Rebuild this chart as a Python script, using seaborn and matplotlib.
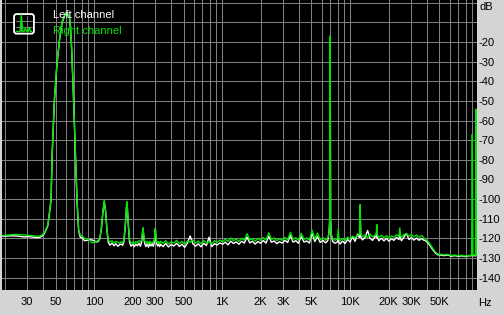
import numpy as np
import pandas as pd
import matplotlib
matplotlib.use("Agg")
import matplotlib.pyplot as plt
import seaborn as sns
from matplotlib.patches import FancyBboxPatch
from matplotlib.ticker import NullLocator

# ---------------- data ----------------
freq_hz = [
    19, 21, 23, 25, 27, 29, 31, 33, 35, 37, 39, 41,
    43.5, 46.0, 47.1, 48.9, 51.0, 53.5, 56.1, 59.2, 61.0, 62.1, 64.4, 66.3, 68.4, 70.9, 73.5, 75.7, 78.0,
    81, 84, 88, 92, 96, 100, 104, 108, 111, 114, 117, 120, 123, 126, 129, 133, 138, 143, 148, 153,
    158, 163, 167, 171, 175, 178, 180, 182, 185, 189, 194, 200, 206, 212, 218, 224, 230, 235, 238, 241,
    244, 248, 254, 260, 266, 272, 278, 284, 290, 295, 298, 301, 304, 308, 313, 319, 325,
    331, 346, 363, 381, 400, 420, 441, 463, 486, 510, 536, 563, 591, 620, 651, 684, 718, 754, 792, 831,
    873, 916, 962, 1010, 1060, 1113, 1169, 1228, 1289, 1353, 1421, 1492, 1567, 1645, 1727, 1814, 1904,
    2000, 2100, 2205, 2315, 2431, 2552, 2680, 2814, 2955, 3102, 3258, 3420, 3591, 3771, 3959, 4157, 4365,
    4584, 4813, 5053, 5306, 5572, 5850, 6143, 6450, 6700, 6850, 6950, 7000, 7050, 7150, 7300,
    7640, 7990, 8100, 8200, 8360, 8750, 9150, 9570, 10010, 10470, 10950, 11460, 11850, 12000, 12150,
    12540, 13120, 13720, 14350, 15010, 15700, 16050, 16200, 16350, 16820, 17600, 18410, 19260, 20150,
    21080, 22050, 23070, 24130, 24500, 24850, 25250, 26410, 27630, 28900, 30230, 31630, 33090, 34610,
    36210, 37880,
    38600, 40900, 43500, 46200, 48100, 51000, 54500, 58000, 62000, 66000, 70500, 75000, 80000, 85000,
    89300, 90300, 91300, 93500, 95800, 96600, 97500,
]

right_db = [
    -118.6, -118.3, -118.1, -118.0, -118.2, -118.3, -118.5, -118.6, -118.8, -118.9, -118.4, -117.0,
    -113.0, -100.5, -75.0, -49.5, -32.6, -19.0, -9.7, -5.8, -5.0, -5.4, -7.9, -19.0, -41.0, -69.9, -100.5, -115.7, -118.3,
    -119.0, -120.0, -120.4, -120.8, -122.3, -122.0, -121.6, -121.0, -119.5, -114.5, -106.5, -100.6, -106.0, -115.5, -121.0,
    -121.8, -121.3, -122.4, -121.5, -121.9, -122.6, -121.7, -122.2, -120.8, -113.5, -106.0, -101.3, -104.5, -112.5, -120.5,
    -122.5, -121.8, -122.8, -121.6, -122.3, -121.2, -121.9, -120.8, -117.5, -114.4, -118.0, -121.3, -122.4, -121.5, -122.6,
    -121.4, -122.8, -121.9, -122.2, -121.0, -118.0, -114.8, -118.2, -121.4, -122.5, -121.6, -122.7,
    -121.5, -122.6, -121.2, -122.9, -121.8, -122.4, -121.0, -122.7, -121.6, -122.9, -121.3, -122.0, -120.8, -122.5, -121.4,
    -122.8, -121.1, -122.3, -121.7, -122.9, -121.2, -122.0, -120.9, -121.8, -120.4, -121.5, -119.8, -121.2, -120.3, -121.6,
    -119.9, -121.0, -117.6, -120.8, -120.1, -121.4, -120.0, -121.1, -119.6, -120.9, -117.2, -120.6, -119.8, -121.2, -120.2,
    -121.0, -119.5, -120.7, -116.9, -120.4, -119.7, -121.1, -117.4, -120.5, -119.8, -121.0, -115.8, -120.2, -117.3, -120.7,
    -119.6, -120.9, -119.8, -117.5, -112.0, -16.9, -112.5, -117.8, -120.3,
    -121.0, -120.2, -115.2, -120.5, -121.3, -120.1, -121.0, -119.4, -120.3, -118.9, -119.8, -118.4, -118.0, -102.8, -117.8,
    -119.3, -118.2, -119.6, -117.9, -119.2, -118.3, -117.5, -113.0, -118.2, -119.5, -118.4, -119.7, -118.6, -119.9,
    -118.8, -119.4, -118.2, -119.0, -114.7, -118.6, -119.5, -118.0, -117.6, -119.0, -118.1, -119.2, -118.3, -119.5,
    -118.6, -119.8,
    -120.4, -121.7, -124.2, -126.8, -127.9, -128.1, -128.4, -128.2, -128.7, -128.5, -128.9, -128.6, -129.0, -128.7,
    -128.5, -67.0, -128.6, -128.4, -128.7, -54.2, -128.5,
]

left_db = [
    -118.9, -118.8, -118.7, -118.8, -119.1, -119.3, -119.1, -119.4, -119.5, -119.6, -119.0, -117.4,
    -113.5, -101.0, -75.5, -50.0, -33.0, -19.5, -10.2, -6.3, -5.5, -5.9, -8.4, -19.5, -41.5, -70.4, -101.0, -116.3, -119.5,
    -119.8, -121.2, -121.0, -120.6, -120.8, -121.2, -121.9, -121.5, -120.0, -115.0, -107.0, -101.2, -106.5, -116.0, -122.0,
    -123.5, -122.4, -123.8, -122.7, -124.0, -123.2, -122.9, -123.6, -121.6, -114.0, -106.6, -101.9, -105.0, -113.0, -121.8,
    -124.0, -123.0, -124.3, -122.9, -123.8, -122.5, -124.0, -122.0, -118.2, -115.0, -118.8, -122.5, -124.2, -122.8, -124.5,
    -122.6, -123.9, -122.7, -124.1, -122.3, -118.8, -115.4, -119.0, -122.6, -123.9, -122.8, -124.2,
    -123.0, -124.2, -122.6, -124.4, -123.1, -123.9, -122.5, -124.1, -123.0, -124.6, -122.4, -118.8, -122.7, -124.0, -122.8,
    -124.3, -122.5, -123.6, -119.4, -124.2, -122.7, -123.4, -122.3, -123.0, -121.9, -123.3, -121.4, -122.6, -121.8, -123.0,
    -121.5, -122.4, -119.4, -122.3, -121.5, -122.9, -121.6, -122.5, -121.1, -122.4, -119.0, -122.0, -121.3, -122.7, -121.7,
    -122.4, -121.0, -122.1, -118.5, -121.9, -121.2, -122.5, -119.0, -121.9, -121.3, -122.4, -117.5, -121.6, -119.0, -122.1,
    -121.0, -122.3, -121.2, -117.0, -109.5, -24.9, -110.0, -118.5, -121.5,
    -122.5, -121.8, -119.0, -122.0, -122.9, -121.4, -122.6, -120.6, -121.8, -119.2, -121.5, -117.8, -119.6, -108.0, -119.4,
    -120.8, -119.5, -116.0, -120.0, -121.0, -119.0, -119.3, -116.5, -119.8, -121.2, -119.9, -121.3, -120.0, -121.5,
    -120.2, -121.0, -119.5, -120.6, -117.8, -120.3, -121.2, -119.4, -117.5, -120.6, -119.6, -120.9, -119.8, -121.0,
    -120.1, -121.0,
    -121.0, -122.5, -125.0, -127.3, -128.3, -128.5, -128.8, -128.5, -129.1, -128.8, -129.2, -128.9, -129.3, -128.9,
    -128.8, -128.8, -128.9, -128.7, -129.0, -128.8, -128.7,
]

channels = ["Left channel", "Right channel"]
grid_freqs = [20, 30, 40, 50, 60, 70, 80, 90,
              100, 200, 300, 400, 500, 600, 700, 800, 900,
              1000, 2000, 3000, 4000, 5000, 6000, 7000, 8000, 9000,
              10000, 20000, 30000, 40000, 50000, 60000, 70000, 80000, 90000]
x_labels = {30: "30", 50: "50", 100: "100", 200: "200", 300: "300", 500: "500",
            1000: "1K", 2000: "2K", 3000: "3K", 5000: "5K", 10000: "10K",
            20000: "20K", 30000: "30K", 50000: "50K"}
db_grid = [0, -10, -20, -30, -40, -50, -60, -70, -80, -90, -100, -110, -120, -130, -140]
icon_levels = [0.15, 0.17, 0.14, 0.16, 0.9, 0.18, 0.15, 0.3, 0.16, 0.14, 0.35, 0.15, 0.17]

# ---------------- style ----------------
PANEL = "#d4d4d4"
GREEN = "#00e400"
GRID = "#808080"

sns.set_theme(style="dark")
plt.rcParams['font.family'] = ['Liberation Sans', 'DejaVu Sans']

W, H = 504, 315
fig = plt.figure(figsize=(W / 100, H / 100), dpi=100, facecolor=PANEL)
ax = fig.add_axes([2 / W, (H - 290) / H, (477.3 - 2) / W, 290 / H])
ax.set_facecolor("black")

n = len(freq_hz)
df = pd.DataFrame({
    "freq": freq_hz * 2,
    "db": left_db + right_db,
    "channel": [channels[0]] * n + [channels[1]] * n,
})

ax.set_xscale("log")
sns.lineplot(data=df, x="freq", y="db", hue="channel", hue_order=channels,
             palette={channels[0]: "white", channels[1]: GREEN},
             estimator=None, sort=False, linewidth=1.0, legend=False, ax=ax)

ax.set_xlim(19.05, 98840)
ax.set_ylim(-146.3, 1.4)

ax.set_xticks(grid_freqs)
ax.set_xticklabels([x_labels.get(f, "") for f in grid_freqs])
ax.xaxis.set_minor_locator(NullLocator())
ax.set_yticks(db_grid)
ax.set_yticklabels(["" if v > -20 else str(v) for v in db_grid])
ax.yaxis.tick_right()
ax.tick_params(axis="x", length=0, pad=5, labelsize=8, colors="black")
ax.tick_params(axis="y", length=0, pad=1.2, labelsize=8, colors="black")
for lab in ax.get_yticklabels():
    lab.set_horizontalalignment("left")
ax.grid(True, color=GRID, linewidth=0.5, antialiased=False)
ax.set_axisbelow(True)
for s in ax.spines.values():
    s.set_visible(False)
ax.set_xlabel("")
ax.set_ylabel("")

# axis unit labels
fig.text(479 / W, 1 - 7.5 / H, "dB", fontsize=8, color="black", ha="left", va="center")
fig.text(478 / W, 1 - 303 / H, "Hz", fontsize=8, color="black", ha="left", va="center")

# legend
fig.text(52.7 / W, 1 - 15 / H, channels[0], fontsize=8, color="white", ha="left", va="center")
fig.text(52.7 / W, 1 - 31 / H, channels[1], fontsize=8, color=GREEN, ha="left", va="center")

iax = fig.add_axes([12.7 / W, 1 - 35 / H, 22.6 / W, 22.3 / H])
iax.set_xlim(0, 1)
iax.set_ylim(0, 1)
iax.axis("off")
iax.add_patch(FancyBboxPatch((0.06, 0.06), 0.88, 0.88, boxstyle="round,pad=0,rounding_size=0.12",
                             facecolor="black", edgecolor="white", linewidth=1.3))
for g in (0.35, 0.62):
    iax.plot([g, g], [0.15, 0.85], color=GRID, lw=0.7)
    iax.plot([0.15, 0.85], [g, g], color=GRID, lw=0.7)
iax.plot(np.linspace(0.15, 0.85, len(icon_levels)), icon_levels, color=GREEN, lw=1.0)

fig.savefig("out.png", dpi=100, facecolor=PANEL)
